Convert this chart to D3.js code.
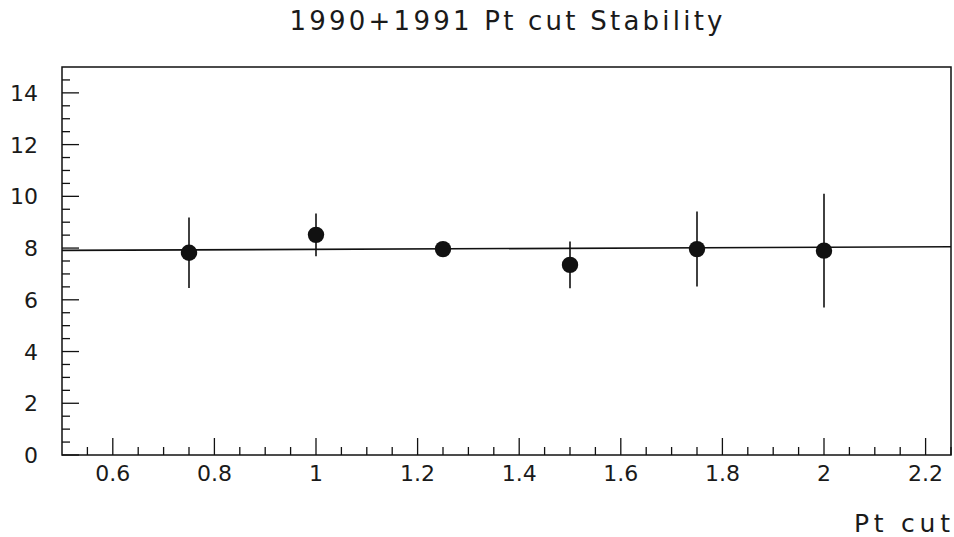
<!DOCTYPE html>
<html>
<head>
<meta charset="utf-8">
<script src="https://cdn.jsdelivr.net/npm/d3@7"></script>
<style>
  html, body { margin: 0; padding: 0; background: #fff; }
  svg { display: block; }
  text { font-family: "DejaVu Sans", "Liberation Sans", sans-serif; fill: #1a1a1a; }
</style>
</head>
<body>
<svg id="chart" width="954" height="537"></svg>
<script>
// Measured quantity versus Pt cut, with symmetric errors
const ptCut   = [0.75, 1.0, 1.25, 1.5, 1.75, 2.0];
const values  = [7.82, 8.51, 7.96, 7.35, 7.96, 7.90];
const errors  = [1.36, 0.83, 0.25, 0.90, 1.45, 2.20];
// Straight-line fit drawn across the full range
const fitX    = [0.5, 2.25];
const fitY    = [7.91, 8.05];
const xTicks  = [0.6, 0.8, 1.0, 1.2, 1.4, 1.6, 1.8, 2.0, 2.2];
const yTicks  = [0, 2, 4, 6, 8, 10, 12, 14];

const svg = d3.select("#chart");
const frame = { left: 62, right: 951, top: 67, bottom: 455 };

const x = d3.scaleLinear().domain([0.5, 2.25]).range([frame.left, frame.right]);
const y = d3.scaleLinear().domain([0, 15]).range([frame.bottom, frame.top]);

const ink = "#111";

// Minor ticks
const xMinor = d3.range(0.55, 2.2501, 0.05).map(v => +v.toFixed(2));
const yMinor = d3.range(0.5, 15.001, 0.5).map(v => +v.toFixed(1));

// Y axis: ticks point inward from the left edge
const yAxis = svg.append("g");
yAxis.selectAll("line.minor").data(yMinor.filter(v => !yTicks.includes(v) && v < 15))
  .join("line").attr("class", "minor")
  .attr("x1", frame.left).attr("x2", frame.left + 8)
  .attr("y1", d => y(d)).attr("y2", d => y(d))
  .attr("stroke", ink).attr("stroke-width", 1.3);
yAxis.selectAll("line.major").data(yTicks)
  .join("line").attr("class", "major")
  .attr("x1", frame.left).attr("x2", frame.left + 17)
  .attr("y1", d => y(d)).attr("y2", d => y(d))
  .attr("stroke", ink).attr("stroke-width", 1.3);
yAxis.selectAll("text").data(yTicks)
  .join("text")
  .attr("x", 38).attr("y", d => y(d) + 8)
  .attr("text-anchor", "end").attr("font-size", 22)
  .text(d => d);

// X axis: ticks point upward from the bottom edge
const xAxis = svg.append("g");
xAxis.selectAll("line.minor").data(xMinor.filter(v => !xTicks.some(t => Math.abs(t - v) < 1e-6)))
  .join("line").attr("class", "minor")
  .attr("x1", d => x(d)).attr("x2", d => x(d))
  .attr("y1", frame.bottom).attr("y2", frame.bottom - 8)
  .attr("stroke", ink).attr("stroke-width", 1.3);
xAxis.selectAll("line.major").data(xTicks)
  .join("line").attr("class", "major")
  .attr("x1", d => x(d)).attr("x2", d => x(d))
  .attr("y1", frame.bottom).attr("y2", frame.bottom - 17)
  .attr("stroke", ink).attr("stroke-width", 1.3);
xAxis.selectAll("text").data(xTicks)
  .join("text")
  .attr("x", d => x(d)).attr("y", 481)
  .attr("text-anchor", "middle").attr("font-size", 22)
  .text(d => d3.format("~g")(d));

// Frame
svg.append("rect")
  .attr("x", frame.left).attr("y", frame.top)
  .attr("width", frame.right - frame.left).attr("height", frame.bottom - frame.top)
  .attr("fill", "none").attr("stroke", ink).attr("stroke-width", 1.5);

// Fit line
svg.append("line")
  .attr("x1", x(fitX[0])).attr("y1", y(fitY[0]))
  .attr("x2", x(fitX[1])).attr("y2", y(fitY[1]))
  .attr("stroke", ink).attr("stroke-width", 1.6);

// Error bars
const pts = ptCut.map((p, i) => ({ p, v: values[i], e: errors[i] }));
svg.append("g").selectAll("line").data(pts).join("line")
  .attr("x1", d => x(d.p)).attr("x2", d => x(d.p))
  .attr("y1", d => y(d.v + d.e)).attr("y2", d => y(d.v - d.e))
  .attr("stroke", ink).attr("stroke-width", 1.6);

// Markers
svg.append("g").selectAll("circle").data(pts).join("circle")
  .attr("cx", d => x(d.p)).attr("cy", d => y(d.v))
  .attr("r", 8.2).attr("fill", ink);

// Title and axis label
svg.append("text")
  .attr("x", 506).attr("y", 30)
  .attr("text-anchor", "middle").attr("font-size", 26)
  .attr("textLength", 433).attr("lengthAdjust", "spacing")
  .text("1990+1991 Pt cut Stability");

svg.append("text")
  .attr("x", 950).attr("y", 532)
  .attr("text-anchor", "end").attr("font-size", 25)
  .attr("textLength", 96).attr("lengthAdjust", "spacing")
  .text("Pt cut");
</script>
</body>
</html>
